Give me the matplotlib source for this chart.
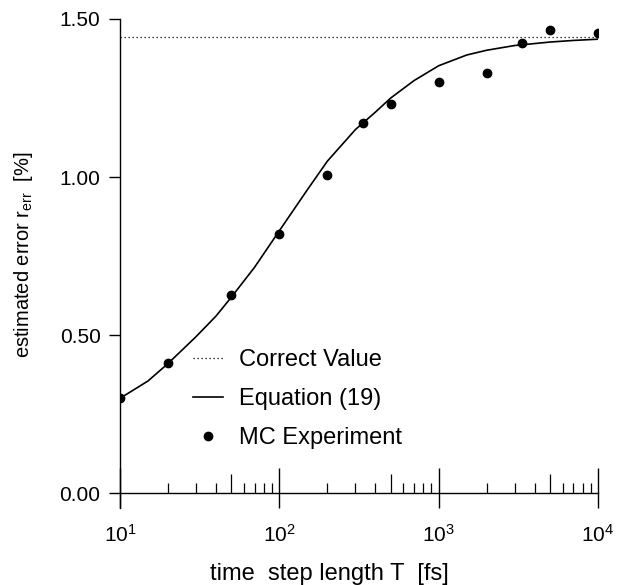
import numpy as np
import matplotlib
matplotlib.use('Agg')
import matplotlib.pyplot as plt
from matplotlib.legend_handler import HandlerLine2D

plt.rcParams['font.family'] = ['Liberation Sans', 'DejaVu Sans']
plt.rcParams['mathtext.fontset'] = 'custom'
plt.rcParams['mathtext.rm'] = 'Liberation Sans'
plt.rcParams['mathtext.it'] = 'Liberation Sans:italic'

# MC experiment points
mc_T = [10, 20, 50, 100, 200, 333, 500, 1000, 2000, 3333, 5000, 10000]
mc_err = [0.30, 0.412, 0.627, 0.819, 1.006, 1.170, 1.231, 1.300, 1.328, 1.425, 1.466, 1.455]

# Equation (19) curve
eq_T = [10, 15, 20, 30, 40, 50, 70, 100, 150, 200, 300, 400, 500, 700,
        1000, 1500, 2000, 3000, 5000, 7000, 10000]
eq_err = [0.30, 0.355, 0.41, 0.495, 0.56, 0.62, 0.715, 0.83, 0.96, 1.05, 1.15,
          1.205, 1.25, 1.305, 1.352, 1.386, 1.401, 1.416, 1.427, 1.432, 1.436]

correct_value = 1.444


class LeftMarker(HandlerLine2D):
    # put the legend dot at the left end of the handle, like the original
    def get_xdata(self, legend, xdescent, ydescent, width, height, fontsize):
        xdata, _ = super().get_xdata(legend, xdescent, ydescent, width, height, fontsize)
        return xdata, [-xdescent + 0.12 * width]


fig = plt.figure(figsize=(6.18, 5.85), dpi=100)
ax = fig.add_axes([0.1942, 0.1316, 0.7735, 0.836])

ax.set_xscale('log')
ax.set_xlim(10, 10000)
ymin = -0.047
ax.set_ylim(ymin, 1.5)

ax.axhline(correct_value, color='black', ls=(0, (1, 2.2)), lw=0.9, label='Correct Value')
ax.plot(eq_T, eq_err, color='black', lw=1.2, label='Equation (19)')
mc, = ax.plot(mc_T, mc_err, 'o', color='black', ms=6, ls='none', label='MC Experiment')

ax.spines['top'].set_visible(False)
ax.spines['right'].set_visible(False)
ax.spines['bottom'].set_position(('data', 0))
ax.spines['left'].set_linewidth(1.0)
ax.spines['bottom'].set_linewidth(1.0)

ax.set_yticks([0, 0.5, 1.0, 1.5])
ax.set_yticklabels(['0.00', '0.50', '1.00', '1.50'])
ax.tick_params(axis='y', direction='out', length=8, width=1.0, labelsize=15, pad=6)

decades = [10, 100, 1000, 10000]
ax.set_xticks(decades)
ax.set_xticklabels([r'$10^1$', r'$10^2$', r'$10^3$', r'$10^4$'])
minor = [m * d for d in [10, 100, 1000] for m in [2, 3, 4, 6, 7, 8, 9]]
ax.set_xticks(minor, minor=True)
ax.tick_params(axis='x', which='major', direction='in', length=18, width=1.0, labelsize=15, pad=22)
ax.tick_params(axis='x', which='minor', direction='in', length=7, width=0.9, labelbottom=False)
# longer ticks at 5*10^k, and decade ticks continuing below the axis line
ax.vlines([50, 500, 5000], 0, 0.06, color='black', lw=0.9)
ax.vlines(decades, ymin, 0, color='black', lw=1.0, clip_on=False)

ax.set_xlabel('time  step length T  [fs]', fontsize=17)
ax.xaxis.set_label_coords(0.437, -0.112)
ax.set_ylabel(r'estimated error r$_{\rm err}$  [%]', fontsize=14.5)
ax.yaxis.set_label_coords(-0.178, 0.517)

ax.legend(loc='lower left', bbox_to_anchor=(0.152, 0.12), frameon=False, fontsize=17,
          handlelength=1.3, handletextpad=0.65, labelspacing=0.72, borderpad=0,
          borderaxespad=0, handler_map={mc: LeftMarker()})

fig.savefig('out.png', dpi=100)
